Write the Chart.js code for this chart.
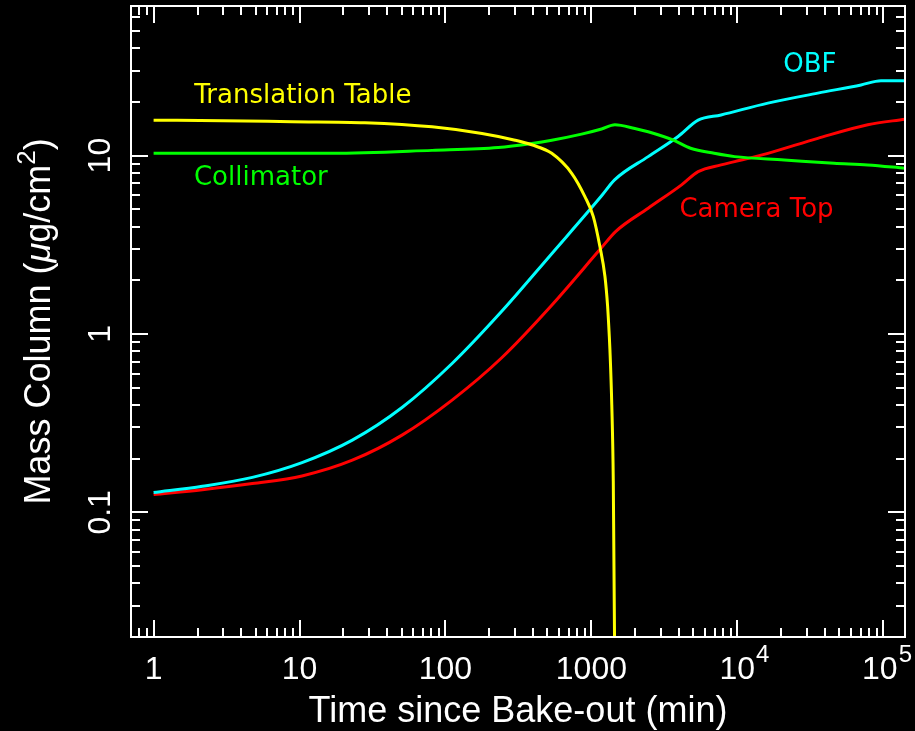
<!DOCTYPE html>
<html>
<head>
<meta charset="utf-8">
<script src="https://cdn.jsdelivr.net/npm/chart.js@4.4.0/dist/chart.umd.min.js"></script>
<style>
  html, body { margin: 0; padding: 0; background: #000; }
  canvas { display: block; }
</style>
</head>
<body>
<canvas id="massChart" width="915" height="731"></canvas>
<script>
//============================== DATA ===========================
const tableTime = [1, 3, 8.9, 28, 81, 178, 300, 390, 535, 733, 903, 1031, 1144, 1239, 1292, 1327, 1340, 1380, 1413, 1441, 1455];
const tableMass = [15.8, 15.7, 15.5, 15.3, 14.5, 13.3, 12.2, 11.5, 10.3, 7.96, 5.89, 4.55, 3.09, 2.1, 1.43, 0.968, 0.817, 0.4, 0.15, 0.02, 0.005];

const collTime = [1, 16.7, 81, 230, 390, 535, 857, 1175, 1449, 1985, 2450, 3650, 4780, 6940, 9590, 21000, 46000, 78300, 141000];
const collMass = [10.3, 10.3, 10.7, 11.1, 11.7, 12.2, 13.2, 14.1, 14.9, 14.2, 13.6, 12.2, 11.0, 10.3, 9.87, 9.46, 9.06, 8.87, 8.5];

const obfTime = [1, 2.16, 4.75, 10.4, 23, 50.4, 111, 243, 535, 1175, 1442, 2450, 3930, 5390, 7740, 16200, 35600, 70500, 96500, 141000];
const obfMass = [0.129, 0.14, 0.157, 0.19, 0.254, 0.387, 0.683, 1.34, 2.82, 5.95, 7.31, 9.87, 12.8, 15.8, 16.9, 19.7, 22.4, 24.9, 26.3, 26.3];

const camTime = [1, 2.16, 4.75, 10.4, 23, 50.4, 111, 243, 535, 1175, 1465, 2450, 4150, 5390, 7740, 9590, 16200, 35600, 78300, 141000];
const camMass = [0.126, 0.134, 0.145, 0.16, 0.196, 0.271, 0.426, 0.736, 1.45, 3.05, 3.75, 5.07, 6.85, 8.13, 8.87, 9.25, 10.3, 12.5, 14.9, 16.0];

// curve labels, placed at data coordinates (left edge / baseline)
const seriesNames = ["Translation Table", "Collimator", "OBF", "Camera Top"];
const seriesColors = ["#ffff00", "#00ff00", "#00ffff", "#ff0000"];
const labelTime = [1.9, 1.89, 20630, 4013];
const labelMass = [19.7, 6.85, 29.4, 4.54];

// axis ticks
const xMajorTicks = [1, 10, 100, 1000, 10000, 100000];
const xTickLabels = ["1", "10", "100", "1000", "10", "10"];
const xTickExponents = ["", "", "", "", "4", "5"];
const yMajorTicks = [0.1, 1, 10];
const yTickLabels = ["0.1", "1", "10"];

const xMin = 0.73, xMax = 141000;
const yMin = 0.02, yMax = 69;

function minorTicks(lo, hi) {
    const out = [];
    for (let d = 0.001; d <= hi; d *= 10) {
        for (let m = 2; m <= 9; m++) {
            const v = m * d;
            if (v > lo && v < hi) out.push(v);
        }
    }
    return out;
}

function toPoints(xs, ys) {
    return xs.map((x, i) => ({ x: x, y: ys[i] }));
}

//============================== FRAME / TEXT ===========================
const frameAndLabels = {
    id: "frameAndLabels",
    afterDatasetsDraw(chart) {
        const ctx = chart.ctx;
        const a = chart.chartArea;
        const xs = chart.scales.x;
        const ys = chart.scales.y;
        const majorLen = 17, minorLen = 9;

        ctx.save();
        ctx.strokeStyle = "#ffffff";
        ctx.fillStyle = "#ffffff";
        ctx.lineWidth = 2;
        ctx.strokeRect(a.left, a.top, a.right - a.left, a.bottom - a.top);

        ctx.beginPath();
        const xTick = (v, len) => {
            const px = Math.round(xs.getPixelForValue(v));
            ctx.moveTo(px, a.bottom); ctx.lineTo(px, a.bottom - len);
            ctx.moveTo(px, a.top); ctx.lineTo(px, a.top + len);
        };
        const yTick = (v, len) => {
            const py = Math.round(ys.getPixelForValue(v));
            ctx.moveTo(a.left, py); ctx.lineTo(a.left + len, py);
            ctx.moveTo(a.right, py); ctx.lineTo(a.right - len, py);
        };
        xMajorTicks.forEach(v => xTick(v, majorLen));
        minorTicks(xMin, xMax).forEach(v => xTick(v, minorLen));
        yMajorTicks.forEach(v => yTick(v, majorLen));
        minorTicks(yMin, yMax).forEach(v => yTick(v, minorLen));
        ctx.stroke();

        // x tick labels (exponent labels kept inside the canvas)
        ctx.textBaseline = "alphabetic";
        xMajorTicks.forEach((v, i) => {
            let px = xs.getPixelForValue(v);
            ctx.font = '32px "Liberation Sans"';
            const w = ctx.measureText(xTickLabels[i]).width;
            let ew = 0;
            if (xTickExponents[i]) {
                ctx.font = '24px "Liberation Sans"';
                ew = ctx.measureText(xTickExponents[i]).width + 1;
            }
            const overflow = px + w / 2 + ew - (chart.width - 3);
            if (overflow > 0) px -= overflow;
            ctx.font = '32px "Liberation Sans"';
            ctx.textAlign = "center";
            ctx.fillText(xTickLabels[i], px, 679);
            if (xTickExponents[i]) {
                ctx.font = '24px "Liberation Sans"';
                ctx.textAlign = "left";
                ctx.fillText(xTickExponents[i], px + w / 2 + 1, 662);
            }
        });

        // y tick labels (rotated)
        ctx.font = '32px "Liberation Sans"';
        ctx.textAlign = "center";
        yMajorTicks.forEach((v, i) => {
            const py = ys.getPixelForValue(v);
            ctx.save();
            ctx.translate(110, py);
            ctx.rotate(-Math.PI / 2);
            ctx.fillText(yTickLabels[i], 0, 0);
            ctx.restore();
        });

        // x title
        ctx.font = '36px "Liberation Sans"';
        ctx.textAlign = "center";
        ctx.fillText("Time since Bake-out (min)", (a.left + a.right) / 2, 722);

        // y title with mu and superscript
        const parts = [
            { t: "Mass Column (", f: '36px "Liberation Sans"', dy: 0 },
            { t: "\u03bc", f: 'italic 36px "Liberation Sans"', dy: 0 },
            { t: "g/cm", f: '36px "Liberation Sans"', dy: 0 },
            { t: "2", f: '26px "Liberation Sans"', dy: -15 },
            { t: ")", f: '36px "Liberation Sans"', dy: 0 }
        ];
        let total = 0;
        parts.forEach(p => { ctx.font = p.f; p.w = ctx.measureText(p.t).width; total += p.w; });
        ctx.save();
        ctx.translate(50, (a.top + a.bottom) / 2);
        ctx.rotate(-Math.PI / 2);
        ctx.textAlign = "left";
        let cx = -total / 2;
        parts.forEach(p => { ctx.font = p.f; ctx.fillText(p.t, cx, p.dy); cx += p.w; });
        ctx.restore();

        // curve labels
        ctx.font = '26px "DejaVu Sans"';
        ctx.textAlign = "left";
        seriesNames.forEach((name, i) => {
            ctx.fillStyle = seriesColors[i];
            ctx.fillText(name, xs.getPixelForValue(labelTime[i]), ys.getPixelForValue(labelMass[i]));
        });
        ctx.restore();
    }
};

//============================== CHART ===========================
const massData = {
    datasets: [
        { label: seriesNames[0], data: toPoints(tableTime, tableMass), borderColor: seriesColors[0] },
        { label: seriesNames[1], data: toPoints(collTime, collMass), borderColor: seriesColors[1] },
        { label: seriesNames[2], data: toPoints(obfTime, obfMass), borderColor: seriesColors[2] },
        { label: seriesNames[3], data: toPoints(camTime, camMass), borderColor: seriesColors[3] }
    ]
};

const massConfig = {
    type: "line",
    data: massData,
    options: {
        responsive: false,
        animation: false,
        layout: { padding: { left: 131, right: 10, top: 6, bottom: 94 } },
        elements: {
            point: { radius: 0 },
            line: { borderWidth: 3, cubicInterpolationMode: "monotone", fill: false }
        },
        plugins: { legend: { display: false }, tooltip: { enabled: false } },
        scales: {
            x: { type: "logarithmic", min: xMin, max: xMax, display: false },
            y: { type: "logarithmic", min: yMin, max: yMax, display: false }
        }
    },
    plugins: [frameAndLabels]
};

const massChart = new Chart(document.getElementById("massChart").getContext("2d"), massConfig);
</script>
</body>
</html>
